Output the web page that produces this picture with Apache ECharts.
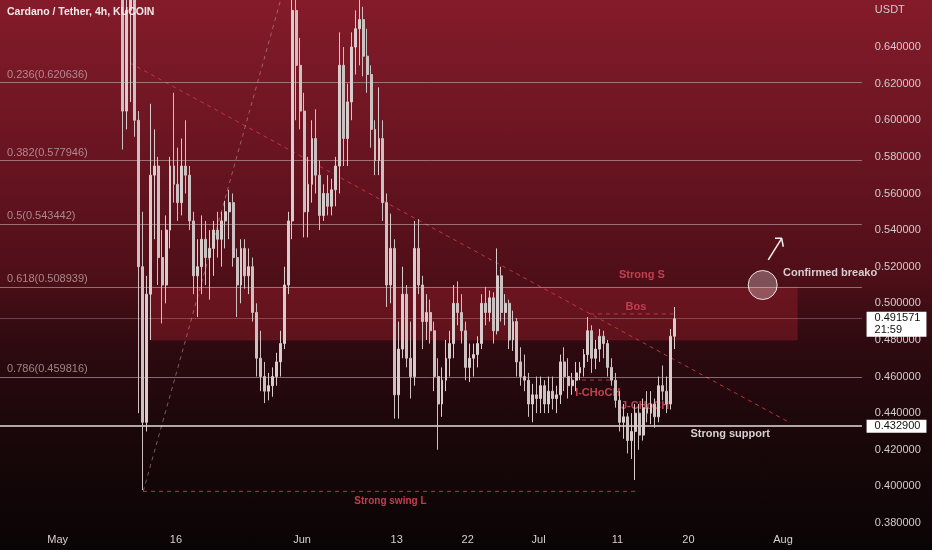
<!DOCTYPE html>
<html>
<head>
<meta charset="utf-8">
<script src="https://cdn.jsdelivr.net/npm/echarts@6/dist/echarts.min.js"></script>
<style>
  html, body { margin: 0; padding: 0; }
  #chart {
    width: 932px; height: 550px;
    background: linear-gradient(180deg, #841b2a 0%, #6c1522 25%, #4f0f18 50%, #2d0a10 63%, #190709 80%, #0a0405 100%);
  }
</style>
</head>
<body>
<div id="chart"></div>
<script>
// ADA/USDT, 12h candles, first one starts 5 May 00:00
// x positions are in days after 1 May
const firstDay = 4;
const dayStart = -7.5;
const dayEnd = 102;

const opens = [
  0.85, 0.82, 0.80, 0.78, 0.79, 0.76, 0.77, 0.74,
  0.69, 0.605, 0.66, 0.68, 0.60, 0.52, 0.435, 0.505,
  0.57, 0.575, 0.525, 0.51, 0.54, 0.575, 0.565, 0.555,
  0.575, 0.57, 0.545, 0.515, 0.52, 0.535, 0.525, 0.53,
  0.54, 0.535, 0.545, 0.55, 0.555, 0.525, 0.51, 0.53,
  0.515, 0.52, 0.495, 0.47, 0.46, 0.452, 0.455, 0.46,
  0.468, 0.478, 0.51, 0.545, 0.66, 0.63, 0.605, 0.55,
  0.565, 0.59, 0.57, 0.548, 0.56, 0.553, 0.562, 0.575,
  0.63, 0.59, 0.61, 0.64, 0.65, 0.655, 0.635, 0.625,
  0.595, 0.578, 0.59, 0.555, 0.51, 0.53, 0.45, 0.475,
  0.505, 0.47, 0.46, 0.53, 0.51, 0.49, 0.495, 0.485,
  0.46, 0.445, 0.458, 0.47, 0.478, 0.50, 0.495, 0.485,
  0.465, 0.47, 0.472, 0.478, 0.50, 0.495, 0.503, 0.485,
  0.515, 0.495, 0.50, 0.48, 0.49, 0.468, 0.46, 0.458,
  0.445, 0.45, 0.448, 0.455, 0.445, 0.452, 0.448, 0.45,
  0.468, 0.46, 0.455, 0.458, 0.462, 0.465, 0.472, 0.485,
  0.47, 0.475, 0.482, 0.478, 0.465, 0.458, 0.447, 0.435,
  0.438, 0.425, 0.43, 0.44, 0.428, 0.443, 0.44, 0.445,
  0.438, 0.455, 0.452, 0.445, 0.482
];
const highs = [
  0.87, 0.84, 0.81, 0.80, 0.80, 0.78, 0.78, 0.75,
  0.70, 0.668, 0.70, 0.69, 0.605, 0.55, 0.515, 0.609,
  0.595, 0.58, 0.54, 0.548, 0.58, 0.615, 0.585, 0.59,
  0.60, 0.575, 0.55, 0.535, 0.548, 0.545, 0.54, 0.545,
  0.55, 0.55, 0.556, 0.562, 0.56, 0.53, 0.535, 0.535,
  0.53, 0.525, 0.50, 0.485, 0.468, 0.462, 0.465, 0.473,
  0.485, 0.52, 0.55, 0.68, 0.675, 0.645, 0.615, 0.58,
  0.60, 0.606, 0.578, 0.565, 0.57, 0.568, 0.58, 0.648,
  0.64, 0.62, 0.648, 0.66, 0.67, 0.662, 0.65, 0.63,
  0.60, 0.618, 0.60, 0.56, 0.549, 0.535, 0.49, 0.52,
  0.51, 0.49, 0.545, 0.546, 0.515, 0.505, 0.502, 0.49,
  0.47, 0.465, 0.48, 0.485, 0.51, 0.512, 0.505, 0.49,
  0.478, 0.478, 0.482, 0.505, 0.509, 0.507, 0.506, 0.53,
  0.52, 0.505, 0.502, 0.496, 0.492, 0.476, 0.472, 0.462,
  0.456, 0.46, 0.46, 0.458, 0.46, 0.46, 0.455, 0.472,
  0.476, 0.47, 0.462, 0.468, 0.468, 0.475, 0.4925, 0.488,
  0.48, 0.486, 0.485, 0.48, 0.47, 0.462, 0.452, 0.445,
  0.44, 0.44, 0.445, 0.445, 0.448, 0.452, 0.452, 0.448,
  0.46, 0.466, 0.46, 0.486, 0.498
];
const lows = [
  0.80, 0.78, 0.76, 0.76, 0.75, 0.74, 0.73, 0.67,
  0.584, 0.595, 0.61, 0.591, 0.44, 0.398, 0.43, 0.48,
  0.535, 0.51, 0.489, 0.50, 0.53, 0.555, 0.545, 0.548,
  0.56, 0.54, 0.505, 0.4925, 0.505, 0.51, 0.502, 0.515,
  0.525, 0.52, 0.53, 0.535, 0.52, 0.4925, 0.50, 0.508,
  0.505, 0.49, 0.46, 0.452, 0.4455, 0.447, 0.449, 0.455,
  0.46, 0.475, 0.505, 0.535, 0.60, 0.595, 0.536, 0.536,
  0.555, 0.56, 0.54, 0.545, 0.548, 0.548, 0.553, 0.56,
  0.575, 0.575, 0.60, 0.625, 0.63, 0.624, 0.615, 0.585,
  0.57, 0.57, 0.545, 0.498, 0.50, 0.437, 0.437, 0.47,
  0.465, 0.448, 0.455, 0.505, 0.475, 0.48, 0.478, 0.452,
  0.42, 0.438, 0.452, 0.46, 0.47, 0.488, 0.478, 0.458,
  0.457, 0.46, 0.465, 0.475, 0.488, 0.49, 0.478, 0.483,
  0.49, 0.488, 0.475, 0.474, 0.46, 0.455, 0.452, 0.438,
  0.435, 0.44, 0.44, 0.44, 0.44, 0.442, 0.44, 0.445,
  0.452, 0.448, 0.45, 0.452, 0.458, 0.46, 0.468, 0.462,
  0.464, 0.468, 0.47, 0.46, 0.455, 0.443, 0.43, 0.426,
  0.418, 0.415, 0.4035, 0.42, 0.425, 0.435, 0.434, 0.432,
  0.435, 0.447, 0.44, 0.442, 0.475
];
const closes = [
  0.82, 0.80, 0.78, 0.79, 0.76, 0.77, 0.74, 0.69,
  0.605, 0.66, 0.68, 0.60, 0.52, 0.435, 0.505, 0.57,
  0.575, 0.525, 0.51, 0.54, 0.575, 0.565, 0.555, 0.575,
  0.57, 0.545, 0.515, 0.52, 0.535, 0.525, 0.53, 0.54,
  0.535, 0.545, 0.55, 0.555, 0.525, 0.51, 0.53, 0.515,
  0.52, 0.495, 0.47, 0.46, 0.452, 0.455, 0.46, 0.468,
  0.478, 0.51, 0.545, 0.66, 0.63, 0.605, 0.55, 0.565,
  0.59, 0.57, 0.548, 0.56, 0.553, 0.562, 0.575, 0.63,
  0.59, 0.61, 0.64, 0.65, 0.655, 0.635, 0.625, 0.595,
  0.578, 0.59, 0.555, 0.51, 0.53, 0.45, 0.475, 0.505,
  0.47, 0.46, 0.53, 0.51, 0.49, 0.495, 0.485, 0.46,
  0.445, 0.458, 0.47, 0.478, 0.50, 0.495, 0.485, 0.465,
  0.47, 0.472, 0.478, 0.50, 0.495, 0.503, 0.485, 0.515,
  0.495, 0.50, 0.48, 0.49, 0.468, 0.46, 0.458, 0.445,
  0.45, 0.448, 0.455, 0.445, 0.452, 0.448, 0.45, 0.468,
  0.46, 0.455, 0.458, 0.462, 0.465, 0.472, 0.485, 0.47,
  0.475, 0.482, 0.478, 0.465, 0.458, 0.447, 0.435, 0.438,
  0.425, 0.43, 0.44, 0.428, 0.443, 0.44, 0.445, 0.438,
  0.455, 0.452, 0.445, 0.482, 0.491571
];

const dayTicks = [0, 15, 31, 43, 52, 61, 71, 80, 92];
const dayTickLabels = ['May', '16', 'Jun', '13', '22', 'Jul', '11', '20', 'Aug'];

const fibRatios = ['0.236', '0.382', '0.5', '0.618', '0.786'];
const fibPrices = [0.620636, 0.577946, 0.543442, 0.508939, 0.459816];
const lastPrice = 0.491571;
const countdown = '21:59';
const supportPrice = 0.4329;

// drawings, in [day, price]
const trendLine = [[9.17, 0.6313], [92.9, 0.4347]];
const fibDiagonal = [[10.86, 0.3974], [30.1, 0.6939]];
const swingLowLine = [[10.82, 0.3973], [73.5, 0.3973]];
const bosLine = [[67.5, 0.4942], [78.1, 0.4942]];
const chochLine = [[66.5, 0.4581], [70.0, 0.4581]];
const zoneBox = [[11.7, 0.508939], [93.8, 0.480]];
const arrowShaft = [[90.13, 0.5237], [91.83, 0.5355]];
const arrowHead = [[90.98, 0.5355], [91.83, 0.5355], [92.03, 0.5309]];
const breakCircle = [89.42, 0.5100];

const red = 'rgba(205,55,72,0.9)';
const redText = '#c0404f';

const slots = Math.round((dayEnd - dayStart) * 2);
const offset = Math.round((firstDay - dayStart) * 2);
const slotNames = [];
const candleData = [];
for (let i = 0; i < slots; i++) {
  slotNames.push(String(i));
  const k = i - offset;
  if (k >= 0 && k < opens.length) {
    candleData.push([opens[k], closes[k], lows[k], highs[k]]);
  } else {
    candleData.push(['-', '-', '-', '-']);
  }
}

function dashed(data, color, width) {
  return {
    type: 'line', xAxisIndex: 1, data: data, symbol: 'none', silent: true, z: 3,
    lineStyle: { color: color, width: width || 1, type: [4, 4] }
  };
}
function solid(data, color, width) {
  return {
    type: 'line', xAxisIndex: 1, data: data, symbol: 'none', silent: true, z: 6,
    lineStyle: { color: color, width: width || 1 }
  };
}
function note(text, pos, color, extra) {
  return {
    value: pos,
    label: Object.assign({ show: true, formatter: text, color: color, fontSize: 11, fontWeight: 600, position: 'inside' }, extra || {})
  };
}

const chart = echarts.init(document.getElementById('chart'));
const option = {
  animation: false,
  textStyle: { fontFamily: 'Liberation Sans, Arial, sans-serif' },
  title: {
    text: 'Cardano / Tether, 4h, KUCOIN',
    left: 7, top: 7, padding: 0,
    textStyle: { color: '#f1e8e9', fontSize: 10.5, fontWeight: 600 }
  },
  grid: { left: -1.43, right: 70.13, top: -26.2, bottom: -9.6, outerBoundsMode: 'none', containLabel: false },
  xAxis: [
    { type: 'category', data: slotNames, show: false, boundaryGap: true },
    {
      type: 'value', min: dayStart, max: dayEnd, position: 'bottom', offset: -33.6,
      axisLine: { show: false }, axisTick: { show: false }, splitLine: { show: false },
      axisLabel: {
        customValues: dayTicks,
        formatter: function (v) { const i = dayTicks.indexOf(v); return i >= 0 ? dayTickLabels[i] : ''; },
        color: '#d8d0d1', fontSize: 11, margin: 8
      }
    }
  ],
  yAxis: {
    type: 'value', position: 'right', min: 0.36, max: 0.68, interval: 0.02,
    axisLine: { show: false }, axisTick: { show: false }, splitLine: { show: false },
    axisLabel: {
      margin: 13, color: '#d3cbcc', fontSize: 11,
      formatter: function (v) { return Math.abs(v - 0.66) < 0.001 ? 'USDT' : v.toFixed(6); }
    }
  },
  series: [
    {
      type: 'candlestick',
      xAxisIndex: 0,
      data: candleData,
      barWidth: 2.4,
      z: 5,
      itemStyle: {
        color: '#d8cccd', color0: '#cdc0c1',
        borderColor: '#d8cccd', borderColor0: '#cdc0c1', borderWidth: 1
      },
      markLine: {
        silent: true, symbol: ['none', 'none'], animation: false, precision: 6,
        data: fibPrices.map(function (p, i) {
          return {
            yAxis: p,
            lineStyle: { color: 'rgba(205,190,192,0.55)', width: 1, type: 'solid' },
            label: {
              show: true, position: 'insideStartTop', distance: [8.4, 2],
              formatter: fibRatios[i] + '(' + p.toFixed(6) + ')',
              color: 'rgba(205,185,187,0.7)', fontSize: 11
            }
          };
        }).concat([
          {
            yAxis: supportPrice,
            lineStyle: { color: 'rgba(245,240,240,0.92)', width: 1.5, type: 'solid' },
            label: {
              show: true, position: 'end', distance: 4.7,
              formatter: supportPrice.toFixed(6),
              color: '#111', backgroundColor: '#fff', padding: [1, 6, 1, 8], fontSize: 11
            }
          },
          {
            yAxis: lastPrice,
            lineStyle: { color: 'rgba(230,190,192,0.6)', width: 1, type: 'dotted' },
            label: { show: false }
          }
        ])
      }
    },
    Object.assign(dashed(swingLowLine, red), {
      z: 1,
      markArea: {
        silent: true,
        itemStyle: { color: 'rgba(150,28,42,0.45)', borderColor: 'rgba(110,20,30,0.7)', borderWidth: 1 },
        data: [[{ coord: zoneBox[0] }, { coord: zoneBox[1] }]]
      }
    }),
    dashed(trendLine, red),
    dashed(fibDiagonal, 'rgba(195,160,162,0.55)'),
    dashed(bosLine, red),
    dashed(chochLine, red),
    solid(arrowShaft, '#f4f0f0', 1.5),
    solid(arrowHead, '#f4f0f0', 1.5),
    {
      type: 'scatter', xAxisIndex: 1, silent: true, z: 6,
      data: [breakCircle], symbolSize: 29,
      itemStyle: { color: 'rgba(255,255,255,0.28)', borderColor: 'rgba(255,255,255,0.85)', borderWidth: 1, opacity: 1 }
    },
    {
      type: 'scatter', xAxisIndex: 1, silent: true, z: 2, symbolSize: 0,
      itemStyle: { opacity: 1 },
      data: [
        note('Strong S', [74.1, 0.5155], redText),
        note('Bos', [73.35, 0.498], redText),
        note('I-CHoCH', [68.5, 0.451], redText),
        note('J-CHoCH', [74.5, 0.444], redText),
        note('Strong swing L', [42.2, 0.392], redText, { fontSize: 10 }),
        note('Strong support', [85.3, 0.4286], '#d8d0d1'),
        note('Confirmed breako', [92.0, 0.5167], '#d6cecf', { position: 'right', distance: 0 })
      ]
    },
    {
      type: 'scatter', xAxisIndex: 1, silent: true, z: 8, symbolSize: 0, clip: false,
      itemStyle: { opacity: 1 },
      data: [{
        value: [dayEnd, 0.4886],
        label: {
          show: true, position: 'right', distance: 4.7,
          formatter: lastPrice.toFixed(6) + '\n' + countdown,
          color: '#111', backgroundColor: '#fff', padding: [1, 6, 1, 8],
          fontSize: 11, lineHeight: 11.5
        }
      }]
    }
  ]
};
chart.setOption(option);
</script>
</body>
</html>
